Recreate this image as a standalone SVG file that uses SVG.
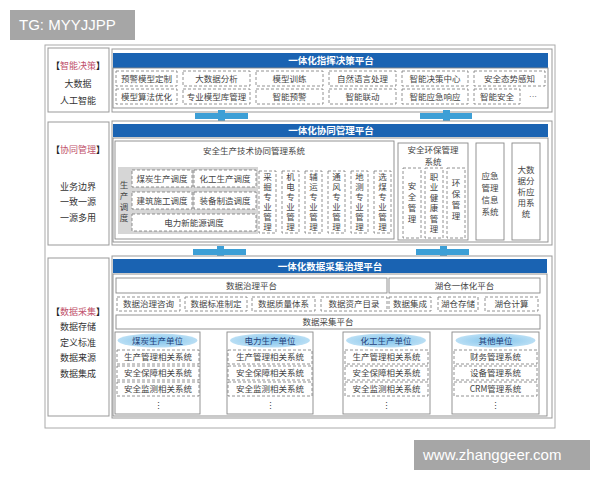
<svg xmlns="http://www.w3.org/2000/svg" width="600" height="480" viewBox="0 0 600 480">
<defs>
<radialGradient id="ell" cx="50%" cy="50%" r="60%">
<stop offset="0" stop-color="#7fc3ec"/>
<stop offset="1" stop-color="#c5e4f6"/>
</radialGradient>
<style>
text{font-family:"Noto Sans CJK SC","Liberation Sans",sans-serif;font-size:8.5px;fill:#444;text-anchor:middle}
.v{writing-mode:vertical-rl;letter-spacing:1.5px}
.frame{fill:#fff;stroke:#999;stroke-width:1}
.box{fill:#fff;stroke:#888;stroke-width:0.9}
.dash{fill:#fff;stroke:#777;stroke-width:0.8;stroke-dasharray:3 2}
.hdr{fill:#1a63b2}
.ht{fill:#fff;font-weight:bold;font-size:9.5px}
.lab{font-size:9px;fill:#333}
.red{fill:#c0506a}
.conn{fill:#3d9fd6}
.ut{fill:#24407a;font-size:8.5px}
.wm{fill:#a6a6a6}
.wt{fill:#fff;font-family:"Liberation Sans",sans-serif;font-size:15px;text-anchor:start}
</style>
</defs>
<rect width="600" height="480" fill="#fff"/>
<rect x="45" y="45" width="510" height="383" fill="none" stroke="#aaa" stroke-width="1"/>

<!-- watermarks -->
<g id="wm1"><rect class="wm" x="10" y="10" width="125" height="30"/><text class="wt" x="19" y="30">TG: MYYJJPP</text></g>
<g id="wm2"><rect class="wm" x="414" y="440" width="176" height="30"/><text class="wt" x="423" y="460">www.zhanggeer.com</text></g>

<!-- Row 1 -->
<g id="label1">
<rect class="frame" x="48" y="48" width="61" height="64"/>
<text class="lab" x="78" y="69"><tspan style="fill:#222;font-weight:bold">【</tspan><tspan class="red">智能决策</tspan><tspan style="fill:#222;font-weight:bold">】</tspan></text>
<text class="lab" x="78" y="87">大数据</text>
<text class="lab" x="78" y="104">人工智能</text>
</g>
<g id="platform1">
<rect class="frame" x="112" y="49" width="440" height="63"/>
<rect class="hdr" x="113" y="53" width="435" height="15"/>
<text class="ht" x="331" y="64">一体化指挥决策平台</text>
<rect class="box" x="113" y="68" width="435" height="40"/>
<rect class="dash" x="116" y="71" width="61" height="15"/><text x="146.5" y="81.5">预警模型定制</text>
<rect class="dash" x="183" y="71" width="67" height="15"/><text x="216.5" y="81.5">大数据分析</text>
<rect class="dash" x="256" y="71" width="67" height="15"/><text x="289.5" y="81.5">模型训练</text>
<rect class="dash" x="329" y="71" width="67" height="15"/><text x="362.5" y="81.5">自然语言处理</text>
<rect class="dash" x="402" y="71" width="66" height="15"/><text x="435" y="81.5">智能决策中心</text>
<rect class="dash" x="474" y="71" width="71" height="15"/><text x="509.5" y="81.5">安全态势感知</text>
<rect class="dash" x="116" y="89" width="61" height="15"/><text x="146.5" y="99.5">模型算法优化</text>
<rect class="dash" x="183" y="89" width="67" height="15"/><text x="216.5" y="99.5">专业模型库管理</text>
<rect class="dash" x="256" y="89" width="67" height="15"/><text x="289.5" y="99.5">智能预警</text>
<rect class="dash" x="329" y="89" width="67" height="15"/><text x="362.5" y="99.5">智能联动</text>
<rect class="dash" x="402" y="89" width="66" height="15"/><text x="435" y="99.5">智能应急响应</text>
<rect class="dash" x="474" y="89" width="46" height="15"/><text x="497" y="99.5">智能安全</text>
<text x="533" y="99" style="font-family:'Liberation Sans',sans-serif;font-size:8px">···</text>
</g>

<!-- connectors -->
<g id="connectors">
<rect class="conn" x="195" y="113" width="53" height="6"/><rect class="conn" x="218" y="110" width="7" height="12"/>
<rect class="conn" x="420" y="113" width="52" height="6"/><rect class="conn" x="443" y="110" width="7" height="12"/>
<rect class="conn" x="193" y="249" width="53" height="6"/><rect class="conn" x="217" y="246" width="7" height="12"/>
<rect class="conn" x="416" y="249" width="53" height="6"/><rect class="conn" x="440" y="246" width="7" height="12"/>
</g>

<!-- Row 2 -->
<g id="label2">
<rect class="frame" x="48" y="122" width="61" height="123"/>
<text class="lab" x="78" y="153"><tspan style="fill:#222;font-weight:bold">【</tspan><tspan class="red">协同管理</tspan><tspan style="fill:#222;font-weight:bold">】</tspan></text>
<text class="lab" x="78" y="190">业务边界</text>
<text class="lab" x="78" y="205">一致一源</text>
<text class="lab" x="78" y="221">一源多用</text>
</g>
<g id="platform2">
<rect class="frame" x="112" y="121" width="440" height="124"/>
<rect class="hdr" x="113" y="124" width="435" height="13"/>
<text class="ht" x="331" y="134">一体化协同管理平台</text>
<rect class="box" x="113" y="138" width="435" height="104"/>
</g>
<g id="safety-tech">
<rect class="box" x="115" y="141" width="279" height="98"/>
<text x="254" y="154">安全生产技术协同管理系统</text>
<rect x="118" y="167" width="140" height="67" fill="#d6d6d6"/>
<text class="v" x="124" y="203" style="letter-spacing:2.5px">生产调度</text>
<rect class="dash" x="132" y="170" width="60" height="17"/><text x="162" y="181.5">煤炭生产调度</text>
<rect class="dash" x="194" y="170" width="62" height="17"/><text x="225" y="181.5">化工生产调度</text>
<rect class="dash" x="132" y="192" width="60" height="17"/><text x="162" y="203.5">建筑施工调度</text>
<rect class="dash" x="194" y="192" width="62" height="17"/><text x="225" y="203.5">装备制造调度</text>
<rect class="dash" x="132" y="214" width="124" height="17"/><text x="194" y="225.5">电力新能源调度</text>
<rect class="dash" x="259" y="171" width="17" height="62"/><text class="v" x="267.5" y="203">采掘专业管理</text>
<rect class="dash" x="282" y="171" width="17" height="62"/><text class="v" x="290.5" y="203">机电专业管理</text>
<rect class="dash" x="305" y="171" width="17" height="62"/><text class="v" x="313.5" y="203">辅运专业管理</text>
<rect class="dash" x="328" y="171" width="17" height="62"/><text class="v" x="336.5" y="203">通风专业管理</text>
<rect class="dash" x="351" y="171" width="17" height="62"/><text class="v" x="359.5" y="203">地测专业管理</text>
<rect class="dash" x="374" y="171" width="17" height="62"/><text class="v" x="382.5" y="203">选煤专业管理</text>
</g>
<g id="safety-env">
<rect class="box" x="398" y="143" width="70" height="97"/>
<text><tspan x="433" y="152.5">安全环保管理</tspan><tspan x="433" y="165">系统</tspan></text>
<rect class="dash" x="403" y="168" width="18" height="70"/><text class="v" x="412" y="204" style="letter-spacing:2.5px">安全管理</text>
<rect class="dash" x="425" y="168" width="18" height="70"/><text class="v" x="434" y="204" style="letter-spacing:2px">职业健康管理</text>
<rect class="dash" x="447" y="168" width="18" height="70"/><text class="v" x="456" y="201" style="letter-spacing:2.5px">环保管理</text>
</g>
<g id="emergency">
<rect class="box" x="476" y="143" width="28" height="97"/>
<text><tspan x="490" y="179">应急</tspan><tspan x="490" y="191">管理</tspan><tspan x="490" y="203">信息</tspan><tspan x="490" y="215">系统</tspan></text>
</g>
<g id="bigdata">
<rect class="box" x="512" y="143" width="28" height="97"/>
<text><tspan x="526" y="173">大数</tspan><tspan x="526" y="184">据分</tspan><tspan x="526" y="195">析应</tspan><tspan x="526" y="206">用系</tspan><tspan x="526" y="217">统</tspan></text>
</g>

<!-- Row 3 -->
<g id="label3">
<rect class="frame" x="48" y="258" width="61" height="158"/>
<text class="lab" x="78" y="315"><tspan style="fill:#222;font-weight:bold">【</tspan><tspan class="red">数据采集</tspan><tspan style="fill:#222;font-weight:bold">】</tspan></text>
<text class="lab" x="78" y="330">数据存储</text>
<text class="lab" x="78" y="346">定义标准</text>
<text class="lab" x="78" y="361">数据来源</text>
<text class="lab" x="78" y="377">数据集成</text>
</g>
<g id="platform3">
<rect class="frame" x="112" y="256" width="440" height="162"/>
<rect class="hdr" x="113" y="259" width="434" height="14"/>
<text class="ht" x="330" y="270">一体化数据采集治理平台</text>
<rect class="box" x="113" y="274" width="434" height="142"/>
<rect class="box" x="116" y="278" width="271" height="15"/><text x="251.5" y="288.5">数据治理平台</text>
<rect class="box" x="389" y="278" width="151" height="15"/><text x="464.5" y="288.5">湖仓一体化平台</text>
<rect class="dash" x="117" y="297" width="63" height="14"/><text x="148.5" y="307">数据治理咨询</text>
<rect class="dash" x="185" y="297" width="62" height="14"/><text x="216" y="307">数据标准制定</text>
<rect class="dash" x="252" y="297" width="63" height="14"/><text x="283.5" y="307">数据质量体系</text>
<rect class="dash" x="321" y="297" width="66" height="14"/><text x="354" y="307">数据资产目录</text>
<rect class="dash" x="389" y="297" width="42" height="14"/><text x="410" y="307">数据集成</text>
<rect class="dash" x="438" y="297" width="40" height="14"/><text x="458" y="307">湖仓存储</text>
<rect class="dash" x="485" y="297" width="53" height="14"/><text x="511.5" y="307">湖仓计算</text>
<rect class="box" x="116" y="315" width="424" height="14"/><text x="328" y="325">数据采集平台</text>
</g>
<g id="unit-coal">
<rect class="box" x="115" y="332" width="85" height="82"/>
<ellipse cx="157.5" cy="340.5" rx="40" ry="7" fill="url(#ell)"/><text class="ut" x="157.5" y="343.5">煤炭生产单位</text>
<rect class="dash" x="117" y="350" width="82" height="14"/><text x="158" y="360">生产管理相关系统</text>
<rect class="dash" x="117" y="366" width="82" height="14"/><text x="158" y="376">安全保障相关系统</text>
<rect class="dash" x="117" y="382" width="82" height="14"/><text x="158" y="392">安全监测相关系统</text>
<text x="158" y="409">⋮</text>
</g>
<g id="unit-power">
<rect class="box" x="227" y="332" width="86" height="82"/>
<ellipse cx="270" cy="340.5" rx="40" ry="7" fill="url(#ell)"/><text class="ut" x="270" y="343.5">电力生产单位</text>
<rect class="dash" x="228" y="350" width="84" height="14"/><text x="270" y="360">生产管理相关系统</text>
<rect class="dash" x="228" y="366" width="84" height="14"/><text x="270" y="376">安全保障相关系统</text>
<rect class="dash" x="228" y="382" width="84" height="14"/><text x="270" y="392">安全监测相关系统</text>
<text x="270" y="409">⋮</text>
</g>
<g id="unit-chem">
<rect class="box" x="343" y="332" width="87" height="82"/>
<ellipse cx="386" cy="340.5" rx="40" ry="7" fill="url(#ell)"/><text class="ut" x="386" y="343.5">化工生产单位</text>
<rect class="dash" x="345" y="350" width="83" height="14"/><text x="386.5" y="360">生产管理相关系统</text>
<rect class="dash" x="345" y="366" width="83" height="14"/><text x="386.5" y="376">安全保障相关系统</text>
<rect class="dash" x="345" y="382" width="83" height="14"/><text x="386.5" y="392">安全监测相关系统</text>
<text x="386.5" y="409">⋮</text>
</g>
<g id="unit-other">
<rect class="box" x="452" y="332" width="87" height="82"/>
<ellipse cx="495.5" cy="340.5" rx="40" ry="7" fill="url(#ell)"/><text class="ut" x="495.5" y="343.5">其他单位</text>
<rect class="dash" x="454" y="350" width="83" height="14"/><text x="495.5" y="360">财务管理系统</text>
<rect class="dash" x="454" y="366" width="83" height="14"/><text x="495.5" y="376">设备管理系统</text>
<rect class="dash" x="454" y="382" width="83" height="14"/><text x="495.5" y="392">CRM管理系统</text>
<text x="495.5" y="409">⋮</text>
</g>
</svg>
